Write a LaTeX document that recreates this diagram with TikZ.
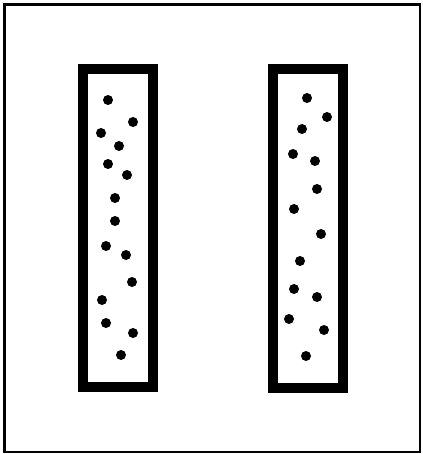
\documentclass[tikz,border=0pt]{standalone}
\begin{document}
\begin{tikzpicture}[x=1pt,y=-1pt,
  frame/.style={draw=black,line width=2.5pt},
  tube/.style={draw=black,line width=10pt,fill=white},
  dot/.style={circle,fill=black,inner sep=0pt,minimum size=10pt}]
\useasboundingbox (0,0) rectangle (422,454);
\fill[white] (0,0) rectangle (422,454);
\draw[frame] (4.5,4.5) rectangle (420,452);
\draw[tube] (83.3,69.5) rectangle (153.3,386.7);
\draw[tube] (272.7,69.5) rectangle (343.3,387.5);
% left tube dots
\foreach \x/\y [count=\i] in {108/100,133/122,101/133,119/146,108/164,127/175,115/198,115/221,106/246,126/255,132/282,102/300,106/323,133/333,121/355}
  \node[dot] (L\i) at (\x,\y) {};
% right tube dots
\foreach \x/\y [count=\i] in {307/98,327/117,302/129,293/154,315/161,317/189,294/209,321/234,300/261,294/289,317/297,289/319,324/330,306/356}
  \node[dot] (R\i) at (\x,\y) {};
\end{tikzpicture}
\end{document}
